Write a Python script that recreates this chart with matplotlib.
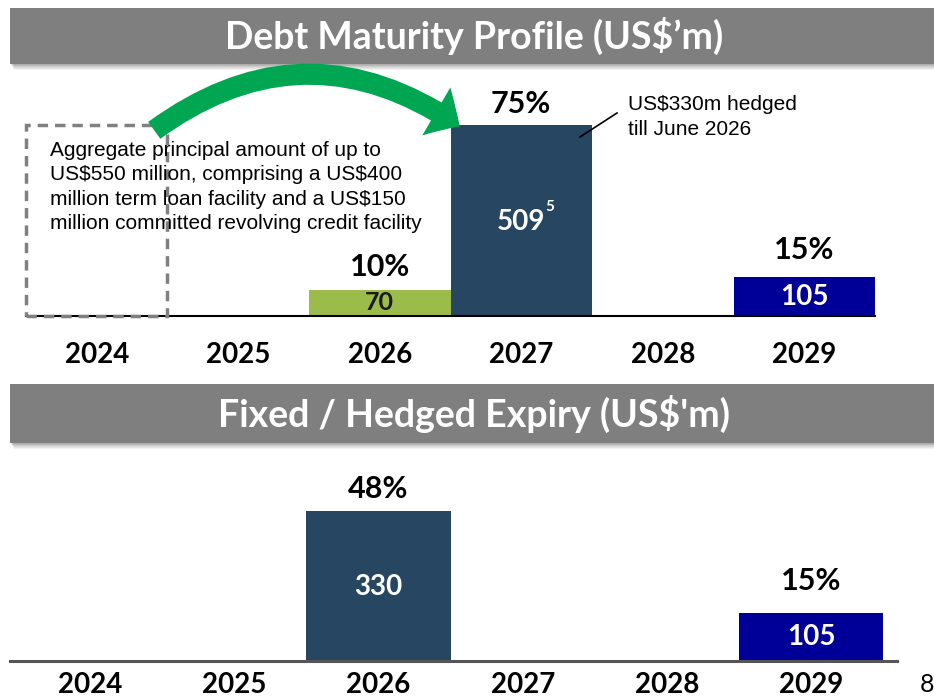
import matplotlib.pyplot as plt
from matplotlib.patches import Rectangle, FancyArrowPatch

# Data
years = ['2024', '2025', '2026', '2027', '2028', '2029']
maturity = [0, 0, 70, 509, 0, 105]
maturity_pct = ['', '', '10%', '75%', '', '15%']
maturity_colors = ['w', 'w', '#9BBB4B', '#264661', 'w', '#000099']
hedged = [0, 0, 330, 0, 0, 105]
hedged_pct = ['', '', '48%', '', '', '15%']
hedged_colors = ['w', 'w', '#264661', 'w', 'w', '#000099']

W, H = 934, 699
fig = plt.figure(figsize=(W / 100, H / 100), dpi=100)


def fbox(x0, y0, x1, y1):
    # pixel box (top-left origin) -> figure fraction [l, b, w, h]
    return [x0 / W, 1 - y1 / H, (x1 - x0) / W, (y1 - y0) / H]


def fpt(x, y):
    return x / W, 1 - y / H


def banner(y0, y1, title):
    for i in range(1, 8):
        fig.patches.append(Rectangle(fpt(10 + i * 0.5, y1 + i * 0.8), (W - 10) / W, (y1 - y0) / H,
                                     transform=fig.transFigure, color='#000000', alpha=0.05,
                                     lw=0, zorder=0))
    fig.patches.append(Rectangle(fpt(10, y1), (W - 10) / W, (y1 - y0) / H,
                                 transform=fig.transFigure, color='#7F7F7F', lw=0, zorder=1))
    fig.text(474 / W, 1 - (y0 + y1) / 2 / H, title, color='white', fontsize=27,
             fontweight='bold', family='Lato', ha='center', va='center', zorder=2)


def bar_chart(ax, vals, pcts, colors, ymax, pad, pct_offsets):
    x = range(len(years))
    ax.bar(x, vals, width=1.0, color=colors, zorder=2)
    ax.set_xlim(-0.5, 5.5)
    ax.set_ylim(0, ymax)
    for s in ['top', 'right', 'left']:
        ax.spines[s].set_visible(False)
    ax.set_yticks([])
    ax.set_xticks(list(x))
    ax.set_xticklabels(years, fontsize=20, fontweight='bold', family='Lato')
    ax.tick_params(axis='x', length=0, pad=pad)
    ax.patch.set_alpha(0)
    for i, (v, p) in enumerate(zip(vals, pcts)):
        if v:
            ax.text(i, v + pct_offsets[i], p, ha='center', va='center', fontsize=22,
                    fontweight='bold', family='Lato')


# Top panel (0.375 px per US$m)
banner(8, 64, 'Debt Maturity Profile (US$\u2019m)')
ax1 = fig.add_axes(fbox(26, 66, 875, 316))
bar_chart(ax1, maturity, maturity_pct, maturity_colors, 250 / 0.375, 19,
          [0, 0, 60, 56, 0, 70])
ax1.spines['bottom'].set_linewidth(1.5)
ax1.text(2, 35, str(maturity[2]), ha='center', va='center', fontsize=18,
         fontweight='bold', family='Lato', color='#1a1a1a')
ax1.text(3, 251, str(maturity[3]), ha='center', va='center', fontsize=20,
         family='Lato', color='white', fontweight='bold')
ax1.text(3.17, 290, '5', ha='left', va='center', fontsize=11,
         family='Lato', color='white', fontweight='bold')
ax1.text(5, 51, str(maturity[5]), ha='center', va='center', fontsize=20,
         family='Lato', color='white', fontweight='bold')

# dashed facility box
fig.patches.append(Rectangle(fpt(26, 316), 141 / W, 191 / H, transform=fig.transFigure,
                             fill=False, ec='#808080', lw=2.5, ls=(0, (3, 2)), zorder=3))
fig.text(50 / W, 1 - 141 / H,
         'Aggregate principal amount of up to\nUS\\$550 million, comprising a US\\$400\n'
         'million term loan facility and a US\\$150\nmillion committed revolving credit facility',
         fontsize=15, family='Liberation Sans', va='top', ha='left', linespacing=1.36, zorder=4)

# green curved arrow
arrow = FancyArrowPatch(fpt(152, 132), fpt(462, 128), transform=fig.transFigure,
                        connectionstyle='arc3,rad=-0.36',
                        arrowstyle='simple,head_width=40,head_length=20,tail_width=15',
                        mutation_scale=1, color='#00A651', lw=0, zorder=5)
fig.patches.append(arrow)

# hedged callout
fig.text(628 / W, 1 - 117 / H, 'US\\$330m hedged\ntill June 2026', fontsize=15,
         family='Liberation Sans', va='center', ha='left', linespacing=1.36)
fig.lines.append(plt.Line2D([580 / W, 617 / W], [1 - 137 / H, 1 - 113 / H],
                            transform=fig.transFigure, color='black', lw=1.2))

# Bottom panel (0.455 px per US$m)
banner(384, 443, "Fixed / Hedged Expiry (US$'m)")
ax2 = fig.add_axes(fbox(10, 445, 897, 661))
bar_chart(ax2, hedged, hedged_pct, hedged_colors, 216 / 0.455, 8,
          [0, 0, 48, 0, 0, 70])
ax2.set_xlim(-0.553, 5.594)
ax2.spines['bottom'].set_linewidth(2.2)
ax2.spines['bottom'].set_color('#555555')
ax2.text(2, 163, str(hedged[2]), ha='center', va='center', fontsize=20,
         family='Lato', color='white', fontweight='bold')
ax2.text(5, 53, str(hedged[5]), ha='center', va='center', fontsize=20,
         family='Lato', color='white', fontweight='bold')

# page number at the right edge
fig.text(920 / W, 1 - 684 / H, '8', fontsize=18, family='Lato', va='center', ha='left')

fig.savefig('out.png', dpi=100)
